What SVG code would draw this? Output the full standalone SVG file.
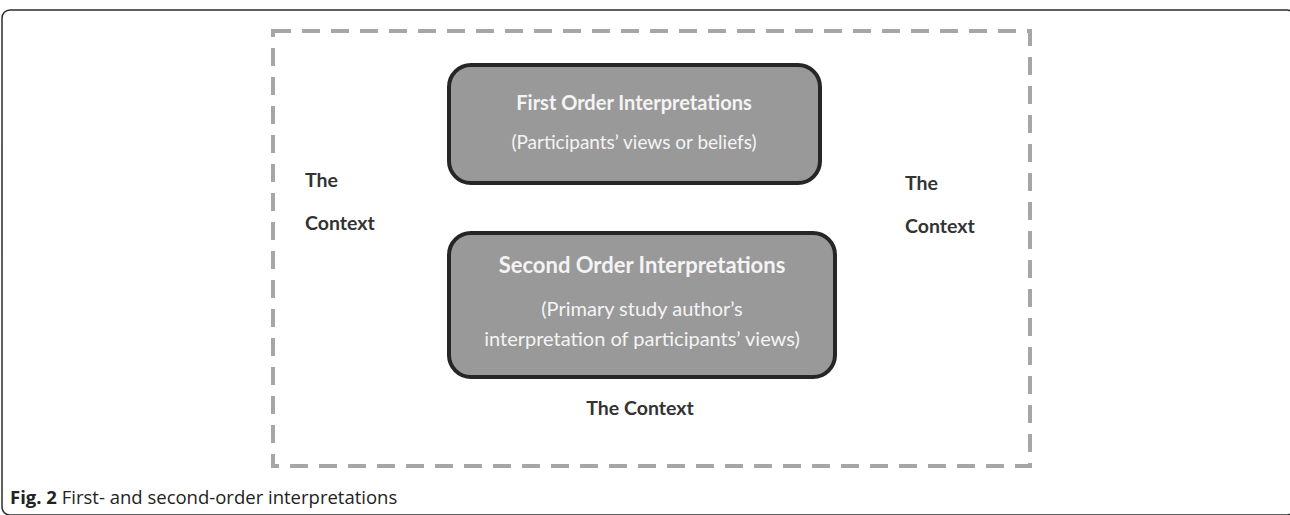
<svg xmlns="http://www.w3.org/2000/svg" width="1290" height="515" viewBox="0 0 1290 515">
<style>
.frame{fill:none;stroke:#2b2b2b;stroke-width:1.5}
.ctx{fill:none;stroke:#a6a6a6;stroke-width:4;stroke-dasharray:18 11}
.box{fill:#999999;stroke:#262626;stroke-width:4}
.t{font-family:Lato,"Liberation Sans",sans-serif;text-anchor:middle;fill:#f4f4f4}
.tb{font-weight:bold}
.lab{font-family:Lato,"Liberation Sans",sans-serif;font-weight:bold;font-size:19.5px;fill:#333333}
.cap{font-family:"Open Sans","Liberation Sans",sans-serif;font-size:18.5px;fill:#222222}
</style>
<rect width="1290" height="515" fill="#ffffff"/>
<rect class="frame" x="2" y="10" width="1293" height="505" rx="8"/>
<g id="context">
<rect class="ctx" x="273" y="31" width="757" height="435"/>
<text class="lab" x="305" y="187">The</text>
<text class="lab" x="305" y="230">Context</text>
<text class="lab" x="905" y="190">The</text>
<text class="lab" x="905" y="233">Context</text>
<text class="lab" x="640" y="415" text-anchor="middle">The Context</text>
</g>
<g id="first-order">
<rect class="box" x="449" y="65" width="371" height="118" rx="22"/>
<text class="t tb" x="634" y="110" font-size="20">First Order Interpretations</text>
<text class="t" x="634" y="149" font-size="19">(Participants’ views or beliefs)</text>
</g>
<g id="second-order">
<rect class="box" x="449" y="233" width="386" height="144" rx="22"/>
<text class="t tb" x="642" y="273" font-size="22">Second Order Interpretations</text>
<text class="t" x="642" y="316" font-size="20">(Primary study author’s</text>
<text class="t" x="642" y="346" font-size="20">interpretation of participants’ views)</text>
</g>
<g id="connectors"></g>
<text class="cap" x="10" y="504"><tspan font-weight="bold">Fig. 2</tspan> First- and second-order interpretations</text>
</svg>
